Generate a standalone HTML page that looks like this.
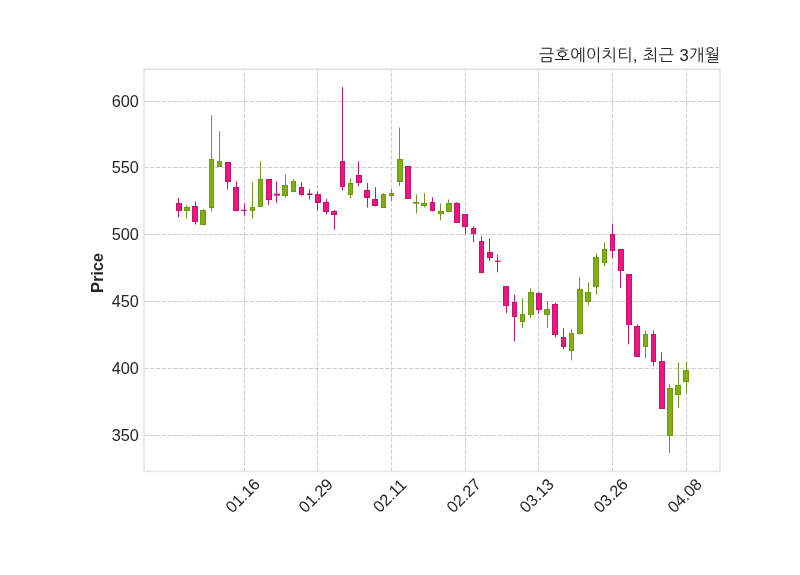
<!DOCTYPE html>
<html lang="ko"><head><meta charset="utf-8"><title>금호에이치티, 최근 3개월</title>
<style>html,body{margin:0;padding:0;background:#fff}svg{display:block}text{font-family:"Liberation Sans","NanumGothic",sans-serif;fill:#262626}text{}.t{font-size:16.3px;letter-spacing:-0.1px}.k{font-family:"Liberation Sans","NanumGothic",sans-serif;font-size:16.67px;word-spacing:0.8px}.b{font-weight:bold;font-size:16.67px;letter-spacing:-0.22px}</style></head><body>
<svg width="800" height="575" viewBox="0 0 800 575">
<rect width="800" height="575" fill="#fff"/>
<g stroke="#cdcdcd" stroke-width="1.11" stroke-dasharray="4.111 1.778" fill="none">
<path d="M144.1 101.5H720"/>
<path d="M144.1 167.5H720"/>
<path d="M144.1 234.5H720"/>
<path d="M144.1 301.5H720"/>
<path d="M144.1 368.5H720"/>
<path d="M144.1 435.5H720"/>
<path d="M244.5 471.5V69"/>
<path d="M317.5 471.5V69"/>
<path d="M391.5 471.5V69"/>
<path d="M465.5 471.5V69"/>
<path d="M538.5 471.5V69"/>
<path d="M612.5 471.5V69"/>
<path d="M686.5 471.5V69"/>
</g>
<path d="M178.5 198.1V217.25M195.5 201.25V224.6M227.5 161.9V189.4M236.5 181.25V211.5M244.5 203.5V215.6M268.5 179V205M276.5 181.25V203.1M301.5 182.25V195.6M309.5 189.1V199.6M317.5 191.25V210.6M326.5 199.1V214.4M334.5 210V229.7M342.5 87.1V190.6M358.5 161.25V186.25M367.5 183.1V207.5M375.5 187.25V206.6M407.5 166V198.6M432.5 197.25V211.6M456.5 202.25V222.6M465.5 213.9V234.1M473.5 226.25V242.25M481.5 236.4V273.4M489.5 238.4V261.25M497.5 254.4V272.25M506.5 286V313.1M514.5 294.75V341.25M538.5 292.25V313.75M555.5 302.5V337.3M563.5 328.4V349.3M612.5 224.4V258.1M620.5 249V288.1M628.5 274V344.4M637.5 324.4V356.6M653.5 330.4V366.25M661.5 352.5V408.75" stroke="#c4186e" stroke-width="1" fill="none"/>
<path d="M186.5 205.25V218.5M203.5 209V225.6M211.5 115.25V211.5M219.5 131.25V166.9M252.5 182.5V218.5M260.5 161.25V206.6M285.5 174.4V197.5M293.5 179.4V191.75M350.5 178.3V198.1M383.5 193.1V207.75M391.5 189.1V201.25M399.5 127.5V186.25M416.5 194.4V213.5M424.5 193.1V207.5M440.5 203.4V220.4M448.5 199.4V211.75M522.5 298.5V328.1M530.5 288.3V318.1M547.5 301.25V328.1M571.5 329.4V360.4M579.5 277.25V334.6M588.5 282.5V305.4M596.5 253.5V294.4M604.5 242.5V266.25M645.5 330.4V358.4M669.5 384.1V453.1M678.5 362.5V408.1M686.5 361.5V393.5" stroke="#6f9620" stroke-width="1" fill="none"/>
<g stroke-width="1"><rect x="176.5" y="203.5" width="5" height="7" fill="#ec1680" stroke="#c4146c"/><rect x="192.5" y="206.5" width="5" height="15" fill="#ec1680" stroke="#c4146c"/><rect x="225.5" y="162.5" width="5" height="19" fill="#ec1680" stroke="#c4146c"/><rect x="233.5" y="187.5" width="5" height="23" fill="#ec1680" stroke="#c4146c"/><rect x="241.3" y="209.75" width="5.2" height="1.3" fill="#c4146c"/><rect x="266.5" y="179.5" width="5" height="20" fill="#ec1680" stroke="#c4146c"/><rect x="274" y="193.75" width="6" height="1.85" fill="#c4146c"/><rect x="299.5" y="187.5" width="4" height="7" fill="#ec1680" stroke="#c4146c"/><rect x="307" y="193.4" width="5.5" height="1.6" fill="#c4146c"/><rect x="315.5" y="194.5" width="5" height="8" fill="#ec1680" stroke="#c4146c"/><rect x="323.5" y="202.5" width="5" height="9" fill="#ec1680" stroke="#c4146c"/><rect x="331.5" y="211.5" width="5" height="3" fill="#ec1680" stroke="#c4146c"/><rect x="340.5" y="161.5" width="4" height="25" fill="#ec1680" stroke="#c4146c"/><rect x="356.5" y="175.5" width="5" height="7" fill="#ec1680" stroke="#c4146c"/><rect x="364.5" y="190.5" width="5" height="7" fill="#ec1680" stroke="#c4146c"/><rect x="372.5" y="199.5" width="5" height="6" fill="#ec1680" stroke="#c4146c"/><rect x="405.5" y="166.5" width="5" height="32" fill="#ec1680" stroke="#c4146c"/><rect x="430.5" y="202.5" width="4" height="8" fill="#ec1680" stroke="#c4146c"/><rect x="454.5" y="203.5" width="5" height="19" fill="#ec1680" stroke="#c4146c"/><rect x="462.5" y="214.5" width="5" height="12" fill="#ec1680" stroke="#c4146c"/><rect x="471.5" y="228.5" width="4" height="5" fill="#ec1680" stroke="#c4146c"/><rect x="479.5" y="241.5" width="4" height="31" fill="#ec1680" stroke="#c4146c"/><rect x="487.5" y="252.5" width="5" height="5" fill="#ec1680" stroke="#c4146c"/><rect x="495" y="260.6" width="5.6" height="1.3" fill="#c4146c"/><rect x="503.5" y="286.5" width="5" height="19" fill="#ec1680" stroke="#c4146c"/><rect x="512.5" y="302.5" width="4" height="14" fill="#ec1680" stroke="#c4146c"/><rect x="536.5" y="293.5" width="5" height="16" fill="#ec1680" stroke="#c4146c"/><rect x="552.5" y="304.5" width="5" height="30" fill="#ec1680" stroke="#c4146c"/><rect x="561.5" y="337.5" width="4" height="9" fill="#ec1680" stroke="#c4146c"/><rect x="610.5" y="234.5" width="4" height="16" fill="#ec1680" stroke="#c4146c"/><rect x="618.5" y="249.5" width="5" height="21" fill="#ec1680" stroke="#c4146c"/><rect x="626.5" y="274.5" width="5" height="50" fill="#ec1680" stroke="#c4146c"/><rect x="634.5" y="326.5" width="5" height="30" fill="#ec1680" stroke="#c4146c"/><rect x="651.5" y="334.5" width="4" height="27" fill="#ec1680" stroke="#c4146c"/><rect x="659.5" y="361.5" width="5" height="47" fill="#ec1680" stroke="#c4146c"/><rect x="184.5" y="207.5" width="5" height="3" fill="#7fb010" stroke="#6b9a14"/><rect x="200.5" y="210.5" width="5" height="14" fill="#7fb010" stroke="#6b9a14"/><rect x="209.5" y="159.5" width="4" height="48" fill="#7fb010" stroke="#6b9a14"/><rect x="217.5" y="161.5" width="4" height="5" fill="#7fb010" stroke="#6b9a14"/><rect x="250.5" y="207.5" width="4" height="3" fill="#7fb010" stroke="#6b9a14"/><rect x="258.5" y="179.5" width="4" height="27" fill="#7fb010" stroke="#6b9a14"/><rect x="282.5" y="185.5" width="5" height="10" fill="#7fb010" stroke="#6b9a14"/><rect x="291.5" y="181.5" width="4" height="10" fill="#7fb010" stroke="#6b9a14"/><rect x="348.5" y="183.5" width="4" height="11" fill="#7fb010" stroke="#6b9a14"/><rect x="381.5" y="194.5" width="4" height="13" fill="#7fb010" stroke="#6b9a14"/><rect x="389.5" y="193.5" width="4" height="2" fill="#7fb010" stroke="#6b9a14"/><rect x="397.5" y="159.5" width="5" height="22" fill="#7fb010" stroke="#6b9a14"/><rect x="413" y="201.9" width="6" height="1.85" fill="#6b9a14"/><rect x="421.5" y="203.5" width="5" height="2" fill="#7fb010" stroke="#6b9a14"/><rect x="438.5" y="211.5" width="5" height="2" fill="#7fb010" stroke="#6b9a14"/><rect x="446.5" y="203.5" width="5" height="8" fill="#7fb010" stroke="#6b9a14"/><rect x="520.5" y="314.5" width="4" height="7" fill="#7fb010" stroke="#6b9a14"/><rect x="528.5" y="292.5" width="5" height="22" fill="#7fb010" stroke="#6b9a14"/><rect x="544.5" y="309.5" width="5" height="5" fill="#7fb010" stroke="#6b9a14"/><rect x="569.5" y="333.5" width="4" height="17" fill="#7fb010" stroke="#6b9a14"/><rect x="577.5" y="289.5" width="5" height="44" fill="#7fb010" stroke="#6b9a14"/><rect x="585.5" y="292.5" width="5" height="9" fill="#7fb010" stroke="#6b9a14"/><rect x="593.5" y="257.5" width="5" height="29" fill="#7fb010" stroke="#6b9a14"/><rect x="602.5" y="249.5" width="4" height="13" fill="#7fb010" stroke="#6b9a14"/><rect x="643.5" y="334.5" width="4" height="12" fill="#7fb010" stroke="#6b9a14"/><rect x="667.5" y="388.5" width="5" height="47" fill="#7fb010" stroke="#6b9a14"/><rect x="675.5" y="385.5" width="5" height="9" fill="#7fb010" stroke="#6b9a14"/><rect x="683.5" y="370.5" width="5" height="11" fill="#7fb010" stroke="#6b9a14"/></g>
<rect x="144.05" y="69.2" width="575.85" height="402.2" fill="none" stroke="#e6e6e6" stroke-width="1.8"/>
<text class="t" x="138.6" y="106.7" text-anchor="end">600</text>
<text class="t" x="138.6" y="172.7" text-anchor="end">550</text>
<text class="t" x="138.6" y="239.7" text-anchor="end">500</text>
<text class="t" x="138.6" y="306.7" text-anchor="end">450</text>
<text class="t" x="138.6" y="373.7" text-anchor="end">400</text>
<text class="t" x="138.6" y="440.7" text-anchor="end">350</text>
<text class="t" text-anchor="middle" transform="translate(246.6 499.6) rotate(-45)">01.16</text>
<text class="t" text-anchor="middle" transform="translate(319.6 499.6) rotate(-45)">01.29</text>
<text class="t" text-anchor="middle" transform="translate(393.6 499.6) rotate(-45)">02.11</text>
<text class="t" text-anchor="middle" transform="translate(467.6 499.6) rotate(-45)">02.27</text>
<text class="t" text-anchor="middle" transform="translate(540.6 499.6) rotate(-45)">03.13</text>
<text class="t" text-anchor="middle" transform="translate(614.6 499.6) rotate(-45)">03.26</text>
<text class="t" text-anchor="middle" transform="translate(688.6 499.6) rotate(-45)">04.08</text>
<text class="b" text-anchor="middle" transform="translate(103.3 273.1) rotate(-90)">Price</text>
<text class="k" x="720.2" y="61.0" text-anchor="end">금호에이치티, 최근 3개월</text>
</svg></body></html>
